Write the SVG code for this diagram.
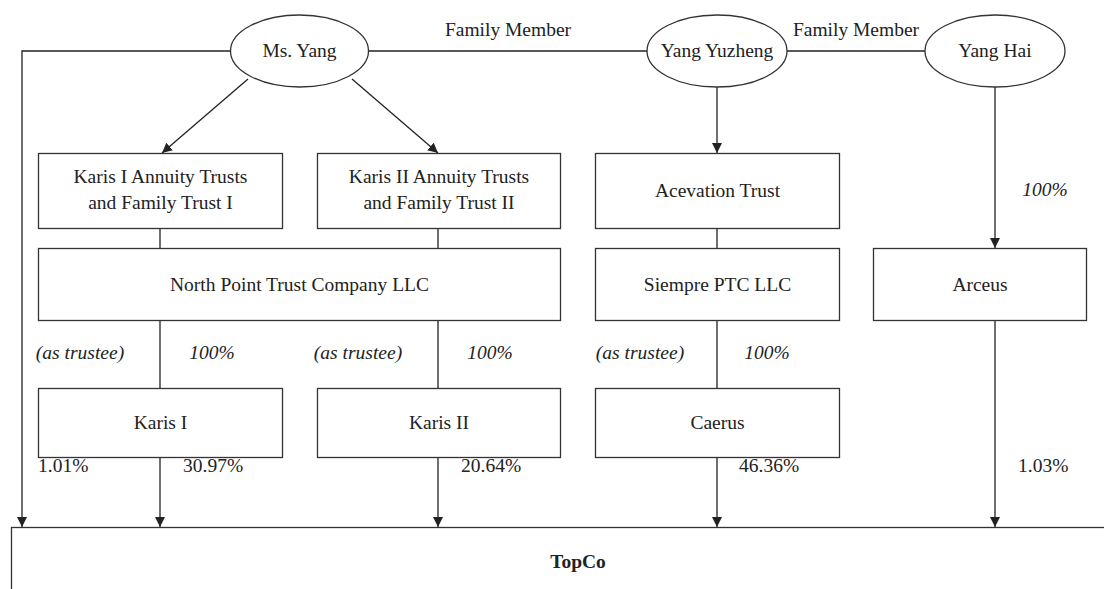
<svg xmlns="http://www.w3.org/2000/svg" width="1104" height="589" viewBox="0 0 1104 589">
<defs>
<style>
text{font-family:"Liberation Serif","Times New Roman",serif;font-size:19.5px;fill:#222;text-anchor:middle}
.it{font-style:italic}
.l{text-anchor:start}
.b{font-weight:bold}
.n{fill:#fff;stroke:#333;stroke-width:1.3}
.c{fill:none;stroke:#222;stroke-width:1.3}
</style>
<marker id="a" viewBox="0 0 10 10" refX="10" refY="5" markerWidth="10" markerHeight="10" markerUnits="userSpaceOnUse" orient="auto"><path d="M0,0L10,5L0,10z" fill="#222"/></marker>
</defs>
<rect width="1104" height="589" fill="#fff"/>
<g id="connectors">
<path class="c" d="M231,51H22V527" marker-end="url(#a)"/>
<path class="c" d="M368,51H648"/>
<path class="c" d="M786,51H926"/>
<path class="c" d="M248,79L162,153" marker-end="url(#a)"/>
<path class="c" d="M352,79L438,153" marker-end="url(#a)"/>
<path class="c" d="M717,87V153" marker-end="url(#a)"/>
<path class="c" d="M995,87V248" marker-end="url(#a)"/>
<path class="c" d="M160,228V248M438,228V248M717,228V248"/>
<path class="c" d="M160,320V388M438,320V388M717,320V388"/>
<path class="c" d="M160,457V527" marker-end="url(#a)"/>
<path class="c" d="M438,457V527" marker-end="url(#a)"/>
<path class="c" d="M717,457V527" marker-end="url(#a)"/>
<path class="c" d="M995,320V527" marker-end="url(#a)"/>
<text x="508" y="36">Family Member</text>
<text x="856" y="36">Family Member</text>
<text class="it" x="1045" y="196">100%</text>
<text class="it" x="80" y="359">(as trustee)</text>
<text class="it" x="212" y="359">100%</text>
<text class="it" x="358" y="359">(as trustee)</text>
<text class="it" x="490" y="359">100%</text>
<text class="it" x="640" y="359">(as trustee)</text>
<text class="it" x="767" y="359">100%</text>
<text class="l" x="38" y="472">1.01%</text>
<text class="l" x="183" y="472">30.97%</text>
<text class="l" x="461" y="472">20.64%</text>
<text class="l" x="739" y="472">46.36%</text>
<text class="l" x="1018" y="472">1.03%</text>
</g>
<g id="ms-yang"><ellipse class="n" cx="299.5" cy="51" rx="69" ry="36"/><text x="299.5" y="57">Ms. Yang</text></g>
<g id="yang-yuzheng"><ellipse class="n" cx="717" cy="51" rx="70" ry="36"/><text x="717" y="57">Yang Yuzheng</text></g>
<g id="yang-hai"><ellipse class="n" cx="995" cy="51" rx="70" ry="36"/><text x="995" y="57">Yang Hai</text></g>
<g id="karis1-trusts"><rect class="n" x="38.5" y="153.5" width="244" height="75"/><text x="160.5" y="183">Karis I Annuity Trusts</text><text x="160.5" y="209">and Family Trust I</text></g>
<g id="karis2-trusts"><rect class="n" x="317.5" y="153.5" width="243" height="75"/><text x="439" y="183">Karis II Annuity Trusts</text><text x="439" y="209">and Family Trust II</text></g>
<g id="acevation"><rect class="n" x="595.5" y="153.5" width="244" height="75"/><text x="717.5" y="197">Acevation Trust</text></g>
<g id="north-point"><rect class="n" x="38.5" y="248.5" width="522" height="72"/><text x="299.5" y="291">North Point Trust Company LLC</text></g>
<g id="siempre"><rect class="n" x="595.5" y="248.5" width="244" height="72"/><text x="717.5" y="291">Siempre PTC LLC</text></g>
<g id="arceus"><rect class="n" x="873.5" y="248.5" width="213" height="72"/><text x="980" y="291">Arceus</text></g>
<g id="karis1"><rect class="n" x="38.5" y="388.5" width="244" height="69"/><text x="160.5" y="429">Karis I</text></g>
<g id="karis2"><rect class="n" x="317.5" y="388.5" width="243" height="69"/><text x="439" y="429">Karis II</text></g>
<g id="caerus"><rect class="n" x="595.5" y="388.5" width="244" height="69"/><text x="717.5" y="429">Caerus</text></g>
<g id="topco"><rect class="n" x="11.5" y="527.5" width="1110" height="80"/><text class="b" x="578" y="568">TopCo</text></g>
</svg>
